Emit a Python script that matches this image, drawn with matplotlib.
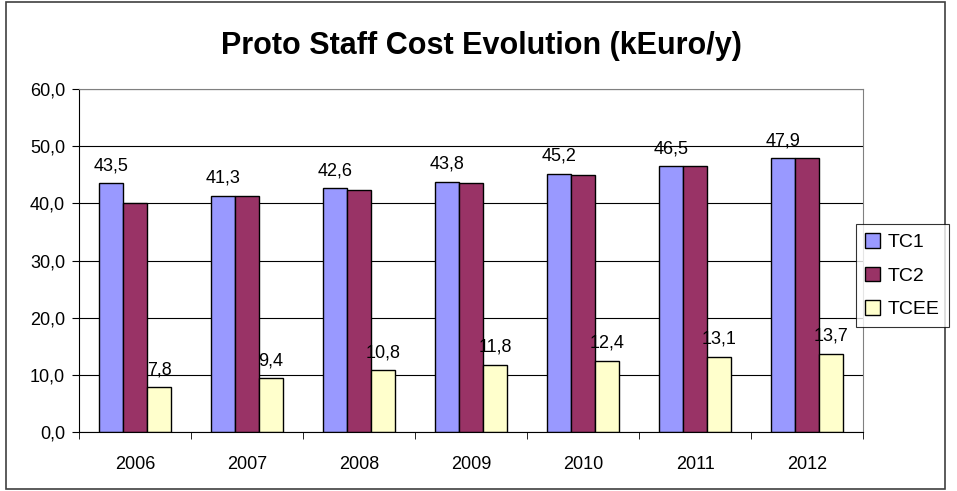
import numpy as np
import matplotlib
matplotlib.use("Agg")
from matplotlib import pyplot as plt
from matplotlib.patches import Rectangle

years = ["2006", "2007", "2008", "2009", "2010", "2011", "2012"]
tc1 = [43.5, 41.3, 42.6, 43.8, 45.2, 46.5, 47.9]
tc2 = [40.0, 41.3, 42.3, 43.5, 44.9, 46.5, 47.9]
tcee = [7.8, 9.4, 10.8, 11.8, 12.4, 13.1, 13.7]

plt.rcParams['font.family'] = ['Liberation Sans', 'DejaVu Sans']

fig = plt.figure(figsize=(9.57, 4.91), dpi=100)
W, H = 957, 491
ax = fig.add_axes([79 / W, 1 - 432 / H, (863 - 79) / W, (432 - 89) / H])

# outer chart frame
fig.patches.append(Rectangle((6 / W, 2 / H), 939 / W, 487 / H, transform=fig.transFigure,
                             fill=False, edgecolor='#404040', linewidth=1.2))

x = np.arange(len(years))
bw = 0.215
b1 = ax.bar(x - bw, tc1, bw, color='#9999FF', edgecolor='black', linewidth=1, label='TC1')
b2 = ax.bar(x, tc2, bw, color='#993366', edgecolor='black', linewidth=1, label='TC2')
b3 = ax.bar(x + bw, tcee, bw, color='#FFFFCC', edgecolor='black', linewidth=1, label='TCEE')

fmt = lambda v: ('%.1f' % v).replace('.', ',')
for xi, v in zip(x, tc1):
    ax.text(xi - bw, v + 1.6, fmt(v), ha='center', va='bottom', fontsize=13)
for xi, v in zip(x, tcee):
    ax.text(xi + bw, v + 1.6, fmt(v), ha='center', va='bottom', fontsize=13)

ax.set_xlim(-0.5, len(years) - 0.5)
ax.set_ylim(0, 60)
ax.set_yticks(np.arange(0, 61, 10))
ax.set_yticklabels([fmt(v) for v in np.arange(0, 61, 10)], fontsize=13)
ax.set_xticks(x)
ax.set_xticklabels(years, fontsize=13)
ax.set_xticks(np.arange(-0.5, len(years), 1), minor=True)
ax.tick_params(axis='x', which='major', length=0, pad=17)
ax.tick_params(axis='x', which='minor', length=5, direction='out', color='black')
ax.tick_params(axis='y', length=5, direction='out', color='black', pad=5)
ax.yaxis.grid(True, color='black', linewidth=0.8)
ax.set_axisbelow(True)
ax.spines['left'].set_color('black')
ax.spines['bottom'].set_color('black')
ax.spines['top'].set_color('#808080')
ax.spines['right'].set_color('#808080')

fig.text(481 / W, 1 - 46 / H, 'Proto Staff Cost Evolution (kEuro/y)', ha='center', va='center',
         fontsize=22, fontweight='bold')

leg = fig.legend(handles=[b1, b2, b3], loc='upper left', bbox_to_anchor=(856 / W, 1 - 224 / H),
                 fontsize=14, frameon=True, fancybox=False, edgecolor='black',
                 handlelength=0.8, handleheight=0.8, handletextpad=0.4, borderpad=0.45,
                 labelspacing=0.8, borderaxespad=0)
leg.get_frame().set_linewidth(0.8)

fig.savefig('out.png', dpi=100)
